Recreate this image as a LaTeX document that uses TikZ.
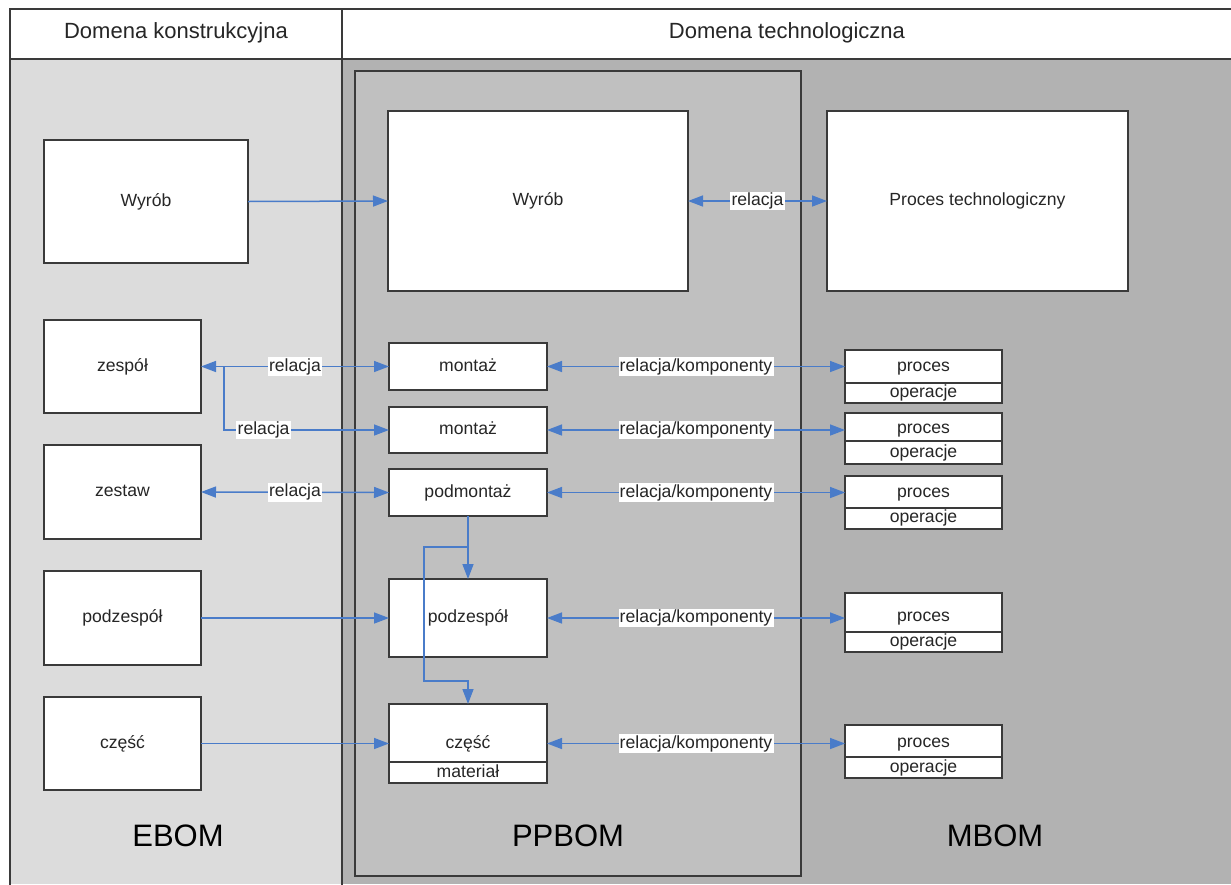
\documentclass[tikz,border=0pt]{standalone}
\usepackage{fontspec}
\setmainfont{Liberation Sans}
\usetikzlibrary{arrows.meta}
\definecolor{lgray}{HTML}{DCDCDC}
\definecolor{dgray}{HTML}{B2B2B2}
\definecolor{mgray}{HTML}{C0C0C0}
\definecolor{edgec}{HTML}{3A3A3A}
\definecolor{ablue}{HTML}{4A7CC9}
\definecolor{txt}{HTML}{262626}
\begin{document}
\begin{tikzpicture}[x=1pt,y=-1pt,
  box/.style={draw=edgec, line width=1.3pt, fill=white, inner sep=0pt, outer sep=0pt,
    text=txt, font=\fontsize{17.6}{20}\selectfont, text height=12.8pt, text depth=3.6pt},
  txtn/.style={inner sep=0pt, text=txt, font=\fontsize{17.6}{20}\selectfont, text height=12.8pt, text depth=3.6pt},
  lbl/.style={fill=white, inner sep=1.2pt, text=txt, font=\fontsize{17.6}{20}\selectfont, text height=12.8pt, text depth=3.6pt},
  hdr/.style={inner sep=0pt, text=txt, font=\fontsize{22}{26}\selectfont, text height=16pt, text depth=4.6pt},
  big/.style={inner sep=0pt, text=black, font=\fontsize{31}{36}\selectfont},
  con/.style={draw=ablue, line width=1.5pt},
  tipone/.style={-{Triangle[length=15pt,width=11pt]}},
  tiptwo/.style={{Triangle[length=15pt,width=11pt]}-{Triangle[length=15pt,width=11pt]}},
  frame/.style={draw=edgec, line width=1.3pt}
]
\useasboundingbox (0,0) rectangle (1231,884);
% panels
\fill[lgray] (10,59) rectangle (342,884);
\fill[dgray] (342,59) rectangle (1231,884);
\filldraw[fill=white, frame] (10,9) rectangle (1233,59);
\draw[frame] (10,9) -- (10,886);
\draw[frame] (342,9) -- (342,886);
\filldraw[fill=mgray, frame] (355,71) rectangle (801,876);
% headers
\node[hdr] (h1) at (176,33) {Domena konstrukcyjna};
\node[hdr] (h2) at (787,33) {Domena technologiczna};
% bottom labels
\node[big] (eb) at (178,836) {EBOM};
\node[big] (ppb) at (568,836) {PPBOM};
\node[big] (mb) at (995,836) {MBOM};
% EBOM boxes
\node[box, minimum width=204, minimum height=123] (ew) at (146,201.5) {Wyrób};
\node[box, minimum width=157, minimum height=93] (ezes) at (122.5,366.5) {zespół};
\node[box, minimum width=157, minimum height=94] (ezst) at (122.5,492) {zestaw};
\node[box, minimum width=157, minimum height=94] (epod) at (122.5,618) {podzespół};
\node[box, minimum width=157, minimum height=93] (ecz) at (122.5,743.5) {część};
% PPBOM boxes
\node[box, minimum width=300, minimum height=180] (pw) at (538,201) {Wyrób};
\node[box, minimum width=158, minimum height=47] (pm1) at (468,366.5) {montaż};
\node[box, minimum width=158, minimum height=46] (pm2) at (468,430) {montaż};
\node[box, minimum width=158, minimum height=47] (ppm) at (468,492.5) {podmontaż};
\node[box, minimum width=158, minimum height=78] (ppod) at (468,618) {podzespół};
\node[box, minimum width=158, minimum height=79] (pcz) at (468,743.5) {część};
\node[box, minimum width=158, minimum height=21] (pmat) at (468,772.5) {materiał};
% MBOM boxes
\node[box, minimum width=301, minimum height=180] (pt) at (977.5,201) {Proces technologiczny};
\node[box, minimum width=157, minimum height=53] (pr1) at (923.5,376.5) {};
\node[box, minimum width=157, minimum height=51] (pr2) at (923.5,438.5) {};
\node[box, minimum width=157, minimum height=53] (pr3) at (923.5,502.5) {};
\node[box, minimum width=157, minimum height=59] (pr4) at (923.5,622.5) {};
\node[box, minimum width=157, minimum height=53] (pr5) at (923.5,751.5) {};
\draw[frame] (pr1.west |- 0,383) -- (pr1.east |- 0,383);
\draw[frame] (pr2.west |- 0,441) -- (pr2.east |- 0,441);
\draw[frame] (pr3.west |- 0,508) -- (pr3.east |- 0,508);
\draw[frame] (pr4.west |- 0,632) -- (pr4.east |- 0,632);
\draw[frame] (pr5.west |- 0,757) -- (pr5.east |- 0,757);
\node[txtn] (p1) at (923.5,366.5) {proces};
\node[txtn] (o1) at (923.5,392.5) {operacje};
\node[txtn] (p2) at (923.5,428.5) {proces};
\node[txtn] (o2) at (923.5,452.5) {operacje};
\node[txtn] (p3) at (923.5,492.5) {proces};
\node[txtn] (o3) at (923.5,518) {operacje};
\node[txtn] (p4) at (923.5,617) {proces};
\node[txtn] (o4) at (923.5,642) {operacje};
\node[txtn] (p5) at (923.5,743) {proces};
\node[txtn] (o5) at (923.5,767.5) {operacje};
% EBOM -> PPBOM connectors
\draw[con, tipone] (ew.east) -- (pw.west);
\draw[con, tiptwo] (pw.east) -- node[lbl] {relacja} (pt.west);
\draw[con, tiptwo] (ezes.east) -- node[lbl] {relacja} (pm1.west);
\coordinate (br) at (224,366.5);
\draw[con, tipone] (br) |- node[lbl, pos=0.62] {relacja} (pm2.west);
\draw[con, tiptwo] (ezst.east) -- node[lbl] {relacja} (ppm.west);
\draw[con, tipone] (epod.east) -- (ppod.west);
\draw[con, tipone] (ecz.east) -- (pcz.west);
% PPBOM -> MBOM connectors
\draw[con, tiptwo] (pm1.east) -- node[lbl] {relacja/komponenty} (pm1.east -| pr1.west);
\draw[con, tiptwo] (pm2.east) -- node[lbl] {relacja/komponenty} (pm2.east -| pr2.west);
\draw[con, tiptwo] (ppm.east) -- node[lbl] {relacja/komponenty} (ppm.east -| pr3.west);
\draw[con, tiptwo] (ppod.east) -- node[lbl] {relacja/komponenty} (ppod.east -| pr4.west);
\draw[con, tiptwo] (pcz.east) -- node[lbl] {relacja/komponenty} (pcz.east -| pr5.west);
% inside PPBOM
\draw[con, tipone] (ppm.south) -- (ppod.north);
\coordinate (vb) at (468,547);
\draw[con, tipone] (vb) -- (424,547) -- (424,681) -- (468,681) -- (pcz.north);
\end{tikzpicture}
\end{document}
